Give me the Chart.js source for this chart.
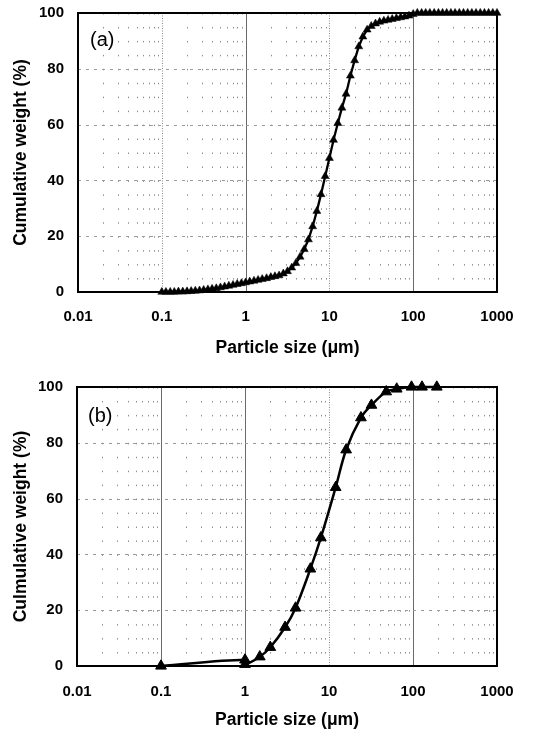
<!DOCTYPE html>
<html><head><meta charset="utf-8">
<script src="https://cdn.jsdelivr.net/npm/chart.js@4/dist/chart.umd.min.js"></script>
<style>
html,body{margin:0;padding:0;background:#fff;width:544px;height:731px;overflow:hidden}
#wa{position:absolute;left:0;top:0;width:544px;height:366px}
#wb{position:absolute;left:0;top:366px;width:544px;height:365px}
</style></head><body>
<div id="wa"><canvas id="ca" width="544" height="366"></canvas></div>
<div id="wb"><canvas id="cb" width="544" height="365"></canvas></div>
<script>
// ---- data (a) ----
const sizesA = [0.1,0.112,0.126,0.141,0.158,0.178,0.2,0.224,0.251,0.282,
 0.316,0.355,0.398,0.447,0.501,0.562,0.631,0.708,0.794,0.891,
 1,1.12,1.26,1.41,1.58,1.78,2,2.24,2.51,2.82,
 3.16,3.55,3.98,4.47,5.01,5.62,6.31,7.08,7.94,8.91,
 10,11.2,12.6,14.1,15.8,17.8,20,22.4,25.1,28.2,
 31.6,35.5,39.8,44.7,50.1,56.2,63.1,70.8,79.4,89.1,
 100,112,126,141,158,178,200,224,251,282,
 316,355,398,447,501,562,631,708,794,891,
 1000];
const cumA = [0,0,0,0,0.1,0.1,0.2,0.3,0.4,0.5,
 0.7,0.9,1.1,1.3,1.6,1.9,2.2,2.5,2.8,3.1,
 3.4,3.7,4.0,4.3,4.6,4.9,5.3,5.6,5.9,6.6,
 7.4,8.7,10.3,12.6,15.3,18.8,23.5,29,35,41.5,
 48,54.5,60.5,66,71,77.5,83,88,91.5,94,
 95.3,96.2,96.8,97.2,97.5,97.8,98.1,98.4,98.7,99.0,
 99.6,100,100,100,100,100,100,100,100,100,
 100,100,100,100,100,100,100,100,100,100,
 100];
// ---- data (b) ----
const sizesB = [0.1,1,1,1.5,2,3,4,6,8,12,16,24,32,48,64,96,128,192];
const cumB = [0,2.2,0.6,3.3,6.7,13.9,20.8,34.8,46,64,77.5,89,93.5,98.3,99.3,100,100,100];
// ---- ticks / labels ----
const xTickValues = [0.01,0.1,1,10,100,1000];
const yTickValues = [0,20,40,60,80,100];
const panelLabels = ['(a)','(b)'];
const yTitles = ['Cumulative weight (%)','Culmulative weight (%)'];
const xTitle = 'Particle size (\u03bcm)';

const tickFont = {family:'"Liberation Sans", Arial, sans-serif', size:15, weight:'bold'};
const titleFont = {family:'"Liberation Sans", Arial, sans-serif', size:17.5, weight:'bold'};

const gridPlugin = {
  id:'customGrid',
  beforeDatasetsDraw(chart, args, opts){
    const {ctx, chartArea:{left,right,top,bottom}, scales:{x,y}} = chart;
    ctx.save();
    ctx.lineWidth = 1;
    // minor vertical lines (dotted)
    ctx.strokeStyle = '#8c8c8c';
    ctx.setLineDash([1.5, 12.45]);
    for (let d=-2; d<3; d++) for (let m=2; m<=9; m++){
      const v = m*Math.pow(10,d);
      const px = Math.round(x.getPixelForValue(v))+0.5;
      ctx.beginPath(); ctx.moveTo(px,top); ctx.lineTo(px,bottom); ctx.stroke();
    }
    // decade lines
    xTickValues.forEach(v=>{
      if (v===xTickValues[0] || v===xTickValues[xTickValues.length-1]) return;
      const px = Math.round(x.getPixelForValue(v))+0.5;
      if (opts.solid.includes(v)) { ctx.setLineDash([]); ctx.strokeStyle='#6a6a6a'; }
      else { ctx.setLineDash([1,1.5]); ctx.strokeStyle='#8a8a8a'; }
      ctx.beginPath(); ctx.moveTo(px,top); ctx.lineTo(px,bottom); ctx.stroke();
    });
    // horizontal lines
    ctx.setLineDash([3,5]); ctx.strokeStyle='#9a9a9a';
    yTickValues.forEach(v=>{
      if (v===0 || v===100) return;
      const py = Math.round(y.getPixelForValue(v))+0.5;
      ctx.beginPath(); ctx.moveTo(left,py); ctx.lineTo(right,py); ctx.stroke();
    });
    // frame
    ctx.setLineDash([]); ctx.strokeStyle='#000'; ctx.lineWidth=2;
    ctx.strokeRect(left, top, right-left, bottom-top);
    // panel label
    ctx.fillStyle='#000'; ctx.font='20px "Liberation Sans", Arial, sans-serif';
    ctx.textBaseline='middle'; ctx.textAlign='left';
    ctx.fillText(opts.label, left+opts.lx, top+opts.ly);
    ctx.restore();
  }
};

function makeChart(canvas, xs, ys, cfg){
  const data = xs.map((v,i)=>({x:v, y:ys[i]}));
  return new Chart(canvas, {
    type:'line',
    data:{datasets:[{data, borderColor:'#000', backgroundColor:'#000', borderWidth:cfg.lw,
      pointStyle:'triangle', pointRadius:cfg.pr, pointBorderWidth:cfg.pbw,
      pointBackgroundColor:'#000', pointBorderColor:'#000', tension:cfg.tension, clip:false, fill:false}]},
    options:{
      responsive:false, animation:false, devicePixelRatio:1,
      layout:{autoPadding:false, padding:{left:0, right:cfg.padRight, top:cfg.padTop, bottom:0}},
      plugins:{legend:{display:false}, tooltip:{enabled:false},
        customGrid:{solid:cfg.solid, label:cfg.label, lx:cfg.lx, ly:cfg.ly}},
      scales:{
        x:{type:'logarithmic', min:0.01, max:1000,
          afterBuildTicks: s => { s.ticks = xTickValues.map(v=>({value:v})); },
          afterFit: s => { s.height = cfg.xh; },
          ticks:{autoSkip:false, maxRotation:0, minRotation:0, padding:0, color:'#000', font:tickFont,
            callback:(v)=>String(v)},
          grid:{display:true, drawOnChartArea:false, drawTicks:true, tickLength:cfg.xtl,
            color:'rgba(0,0,0,0)', tickColor:'rgba(0,0,0,0)'},
          border:{display:false},
          title:{display:true, text:xTitle, color:'#000', font:titleFont, padding:{top:0, bottom:cfg.xtpb}}
        },
        y:{min:0, max:100,
          afterBuildTicks: s => { s.ticks = yTickValues.map(v=>({value:v})); },
          afterFit: s => { s.width = cfg.left; },
          ticks:{padding:0, color:'#000', font:tickFont},
          grid:{display:true, drawOnChartArea:false, drawTicks:true, tickLength:14,
            color:'rgba(0,0,0,0)', tickColor:'rgba(0,0,0,0)'},
          border:{display:false},
          title:{display:true, text:cfg.ytitle, color:'#000', font:titleFont, padding:{top:10.5, bottom:0}}
        }
      }
    },
    plugins:[gridPlugin]
  });
}

makeChart(document.getElementById('ca'), sizesA, cumA, {
  lw:2.3, pr:4.6, pbw:0.5, tension:0, padRight:47, padTop:13, left:78,
  xh:74, xtl:16, xtpb:7.5, ytitle:yTitles[0], solid:[1,100], label:panelLabels[0], lx:12, ly:27
});
makeChart(document.getElementById('cb'), sizesB, cumB, {
  lw:2.5, pr:6.2, pbw:1, tension:0.35, padRight:47, padTop:21, left:77,
  xh:65, xtl:17, xtpb:0, ytitle:yTitles[1], solid:[0.1,1,100], label:panelLabels[1], lx:11, ly:29
});
</script>
</body></html>
